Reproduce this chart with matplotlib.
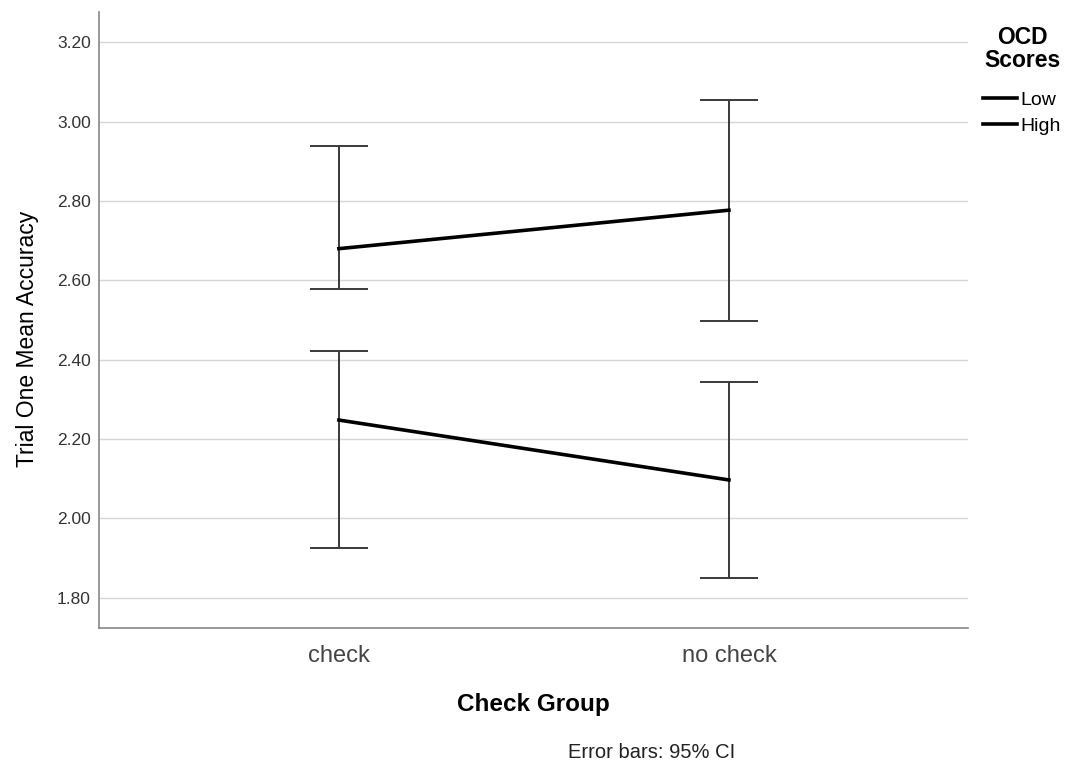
import matplotlib.pyplot as plt

# data
groups = ['check', 'no check']
low_mean = [2.68, 2.777]
low_upper = [2.938, 3.054]
low_lower = [2.578, 2.497]
high_mean = [2.248, 2.097]
high_upper = [2.422, 2.344]
high_lower = [1.925, 1.850]

plt.rcParams['font.family'] = ['Liberation Sans', 'DejaVu Sans']

fig = plt.figure(figsize=(10.68, 7.63), dpi=100)
ax = fig.add_axes([0.0927, 0.177, 0.8137, 0.807])

x = list(range(len(groups)))

for mean, up, lo, name in [(low_mean, low_upper, low_lower, 'Low'),
                           (high_mean, high_upper, high_lower, 'High')]:
    err = [[m - l for m, l in zip(mean, lo)], [u - m for m, u in zip(mean, up)]]
    ax.errorbar(x, mean, yerr=err, fmt='none', ecolor='#3a3a3a', elinewidth=1.4,
                capsize=21, capthick=1.4, zorder=3)
    ax.plot(x, mean, color='black', lw=2.6, label=name, zorder=4)

ax.set_xlim(-0.615, 1.613)
ax.set_ylim(1.724, 3.276)
ax.set_yticks([1.8, 2.0, 2.2, 2.4, 2.6, 2.8, 3.0, 3.2])
ax.set_yticklabels(['%.2f' % v for v in ax.get_yticks()], fontsize=12.5, color='#333333')
ax.set_xticks(x)
ax.set_xticklabels(groups, fontsize=17, color='#444444')
ax.tick_params(axis='both', length=0)
ax.tick_params(axis='x', pad=12)
ax.tick_params(axis='y', pad=6)

ax.grid(axis='y', color='#d6d6d6', lw=1)
ax.set_axisbelow(True)
for s in ['top', 'right']:
    ax.spines[s].set_visible(False)
for s in ['left', 'bottom']:
    ax.spines[s].set_color('#888888')
    ax.spines[s].set_linewidth(1.2)

ax.set_ylabel('Trial One Mean Accuracy', fontsize=16.5)
ax.yaxis.set_label_coords(-0.069, 0.469)
ax.set_xlabel('Check Group', fontsize=17.5, fontweight='bold', labelpad=19)

leg = ax.legend(loc='upper center', bbox_to_anchor=(1022 / 1068, 1 - 16 / 763),
                bbox_transform=fig.transFigure, frameon=False, title='OCD\nScores',
                fontsize=14, handlelength=1.75, handletextpad=0.15, labelspacing=0.42,
                borderpad=0)
leg.get_title().set_fontweight('bold')
leg.get_title().set_fontsize(16.5)
leg.get_title().set_multialignment('center')
leg.get_title().set_linespacing(1.0)
leg._legend_box.align = 'center'
leg._legend_box.sep = 14

fig.text(652 / 1068, 1 - 752 / 763, 'Error bars: 95% CI', fontsize=14.5, color='#222222',
         ha='center', va='center')

fig.savefig('out.png', dpi=100)
